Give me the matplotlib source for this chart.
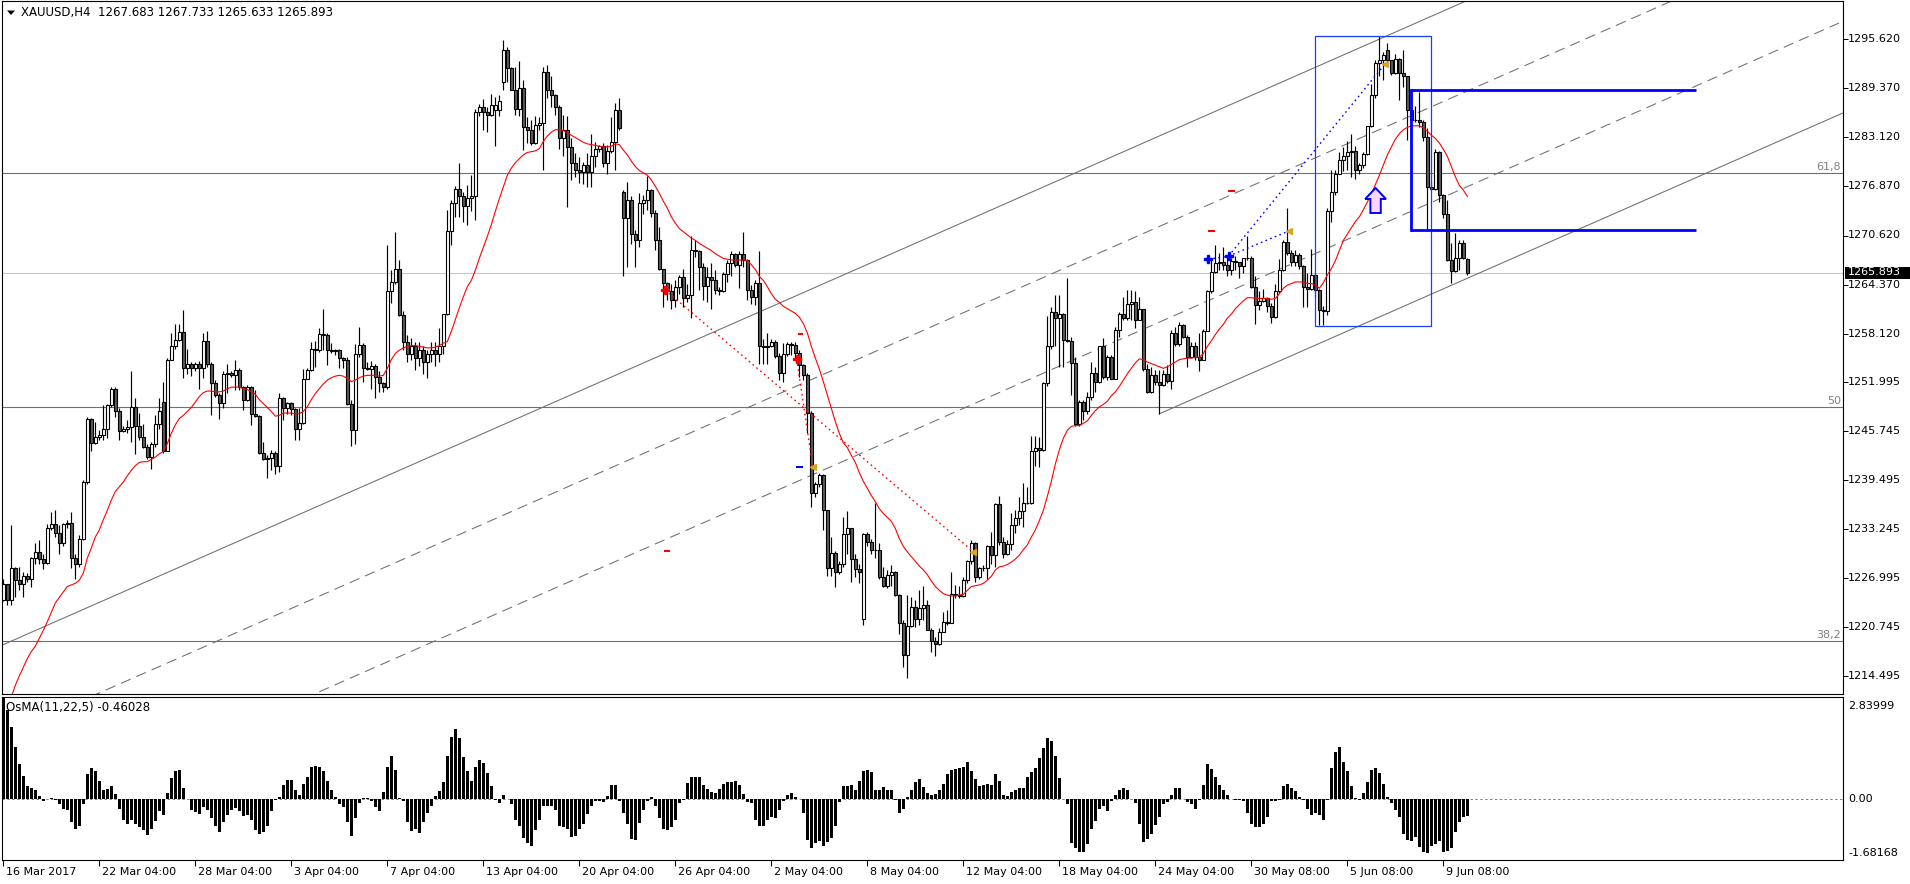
import matplotlib
matplotlib.use("Agg")
import matplotlib.pyplot as plt
from matplotlib.patches import Rectangle, Polygon
import numpy as np

plt.rcParams['font.family'] = ['DejaVu Sans']

# ---------------- data ----------------
opens = [
1224.2,1226.2,1224.2,1228.2,1226.7,1226.2,1227.2,1226.9,1229.5,1230.3,
1229.4,1228.9,1233.4,1233.9,1232.7,1231.5,1233.8,1234.0,1229.5,1228.8,
1232.0,1239.2,1247.2,1244.2,1244.9,1245.2,1246.0,1249.0,1251.1,1248.3,
1245.7,1246.0,1246.2,1248.8,1246.3,1244.9,1243.7,1242.4,1244.1,1246.6,
1249.4,1243.2,1254.8,1256.5,1257.3,1258.3,1253.8,1254.3,1253.7,1254.3,
1253.8,1257.2,1254.3,1251.8,1250.3,1249.3,1253.0,1253.1,1252.8,1253.5,
1251.3,1249.7,1251.3,1247.9,1247.6,1242.9,1242.2,1242.3,1242.9,1241.2,
1249.9,1248.7,1249.3,1248.5,1246.0,1246.7,1252.4,1253.5,1256.2,1256.0,
1258.1,1257.9,1256.0,1255.9,1256.0,1255.0,1254.8,1249.2,1245.9,1255.5,
1256.7,1253.7,1253.6,1254.0,1252.6,1251.8,1251.3,1263.5,1264.7,1266.3,
1260.5,1257.0,1255.5,1256.5,1255.0,1256.0,1254.5,1255.5,1256.0,1255.5,
1256.5,1260.6,1271.2,1274.7,1276.6,1275.6,1274.4,1275.4,1275.7,1286.3,
1287.0,1286.3,1286.0,1286.6,1286.6,1290.2,1294.3,1291.9,1289.2,1286.7,
1289.4,1284.5,1284.0,1282.4,1284.7,1285.0,1291.4,1289.2,1288.5,1287.0,
1283.0,1284.1,1281.9,1279.8,1279.0,1278.7,1279.6,1278.7,1280.7,1281.7,
1282.0,1279.8,1281.4,1282.5,1286.6,1276.2,1272.8,1275.2,1270.8,1270.0,
1274.8,1275.1,1276.4,1273.5,1270.1,1266.3,1264.6,1263.5,1262.4,1264.0,
1265.3,1262.7,1263.0,1268.8,1268.6,1266.6,1264.2,1265.3,1264.9,1263.7,
1263.5,1265.7,1267.1,1268.3,1266.9,1268.3,1267.5,1263.7,1262.8,1264.6,
1256.5,1256.4,1256.5,1257.0,1255.3,1253.1,1255.5,1256.8,1256.7,1255.7,
1254.1,1252.8,1248.0,1237.8,1238.9,1240.1,1235.6,1228.3,1230.2,1227.7,
1228.8,1232.6,1233.3,1229.4,1228.1,1221.7,1232.6,1231.6,1230.6,1230.5,
1227.1,1225.9,1227.4,1227.8,1224.8,1221.3,1217.2,1220.9,1223.3,1221.8,
1223.1,1223.5,1220.4,1218.9,1218.6,1220.1,1221.4,1221.2,1225.0,1224.8,
1224.7,1226.7,1229.1,1231.4,1227.1,1228.2,1228.3,1231.0,1229.9,1236.4,
1231.6,1230.1,1231.3,1233.7,1234.6,1235.5,1236.6,1236.5,1243.1,1243.5,
1243.3,1251.8,1256.5,1260.9,1260.1,1260.6,1257.3,1257.2,1254.4,1246.6,
1249.4,1248.3,1250.0,1253.1,1252.0,1256.5,1252.6,1255.2,1252.4,1258.6,
1260.6,1260.1,1261.9,1262.1,1259.9,1261.2,1253.6,1250.7,1252.8,1252.0,
1251.6,1253.0,1252.1,1258.2,1256.8,1259.2,1257.7,1255.1,1256.5,1255.2,
1254.8,1258.5,1263.5,1266.0,1267.1,1267.3,1266.9,1266.2,1267.4,1267.3,
1266.7,1267.7,1267.8,1264.1,1261.8,1262.3,1262.6,1261.6,1260.2,1263.5,
1266.2,1269.8,1268.4,1267.3,1268.1,1266.7,1264.1,1263.8,1265.6,1263.7,
1261.1,1261.0,1273.7,1276.1,1278.5,1280.3,1280.7,1281.3,1281.4,1279.0,
1279.6,1281.0,1284.6,1288.5,1292.6,1293.0,1294.3,1293.0,1291.3,1293.1,
1291.3,1290.9,1286.6,1285.3,1285.4,1285.1,1283.2,1276.8,1276.5,1281.2,
1275.8,1273.4,1267.5,1266.1,1267.8,1269.7,1267.683]

highs = [
1226.9,1226.2,1233.7,1228.4,1228.4,1227.8,1227.6,1229.7,1231.5,1231.8,
1230.1,1233.9,1235.4,1235.6,1233.7,1234.0,1234.4,1235.4,1230.1,1232.5,
1239.5,1247.5,1247.4,1246.9,1245.8,1249.0,1249.2,1251.3,1251.3,1248.7,
1246.3,1247.1,1253.4,1249.9,1248.0,1246.6,1244.1,1244.3,1247.7,1249.9,
1252.0,1255.0,1258.2,1259.3,1259.3,1261.1,1256.2,1254.5,1254.5,1254.6,
1258.2,1258.4,1254.5,1252.2,1250.6,1253.3,1254.3,1253.3,1254.7,1253.7,
1251.4,1251.6,1251.5,1250.9,1247.7,1244.3,1242.6,1243.3,1243.1,1250.6,
1250.0,1249.4,1249.4,1248.7,1248.6,1253.6,1253.7,1257.1,1257.2,1258.8,
1261.2,1258.2,1256.9,1256.2,1256.2,1255.2,1255.1,1249.7,1256.8,1259.0,
1256.9,1254.5,1254.6,1254.2,1253.4,1251.9,1269.4,1266.2,1271.1,1267.5,
1261.0,1258.0,1257.5,1257.0,1257.0,1256.5,1256.0,1257.0,1257.0,1258.8,
1260.6,1273.9,1275.1,1276.9,1279.8,1276.2,1277.1,1278.3,1286.8,1287.4,
1288.0,1287.0,1288.7,1288.3,1288.5,1295.5,1294.6,1292.1,1292.1,1292.8,
1290.4,1285.7,1285.4,1285.8,1285.7,1292.1,1292.3,1290.9,1288.7,1287.3,
1286.0,1285.8,1283.0,1281.1,1280.6,1280.0,1281.1,1283.6,1282.5,1282.2,
1282.4,1282.2,1285.7,1287.5,1288.2,1276.4,1277.5,1275.6,1271.3,1276.0,
1275.8,1278.2,1276.6,1273.9,1271.7,1266.4,1264.7,1264.5,1264.9,1265.6,
1266.4,1264.5,1270.5,1270.0,1268.8,1267.1,1266.6,1267.1,1266.2,1264.1,
1266.0,1267.5,1268.7,1268.4,1268.7,1271.1,1267.6,1264.3,1264.9,1268.6,
1257.4,1258.2,1257.4,1257.3,1255.6,1256.9,1257.1,1257.0,1257.0,1256.0,
1254.3,1253.1,1248.2,1239.2,1240.3,1240.2,1235.6,1232.2,1230.4,1229.1,
1234.8,1235.5,1233.4,1230.1,1228.8,1232.7,1232.9,1232.0,1236.5,1231.4,
1228.4,1228.0,1228.6,1227.9,1225.0,1221.6,1224.8,1224.6,1224.2,1225.4,
1225.9,1224.2,1220.6,1219.5,1220.6,1222.7,1222.9,1227.7,1226.1,1225.9,
1227.1,1229.3,1231.8,1231.6,1228.4,1228.6,1231.2,1232.9,1236.5,1237.4,
1232.2,1231.8,1235.2,1235.6,1237.3,1239.1,1238.6,1245.1,1245.1,1245.0,
1252.0,1260.3,1261.5,1263.0,1263.0,1260.8,1265.2,1257.7,1255.2,1249.7,
1249.7,1250.7,1254.5,1253.9,1256.5,1257.5,1255.4,1255.4,1259.0,1260.9,
1262.8,1263.7,1263.7,1263.6,1262.8,1261.3,1254.3,1253.9,1253.5,1253.5,
1253.5,1254.1,1258.6,1259.0,1259.6,1259.4,1257.9,1257.1,1257.0,1258.2,
1258.7,1263.7,1267.5,1269.4,1268.4,1269.2,1268.1,1267.7,1268.0,1267.3,
1267.8,1270.5,1268.0,1265.4,1263.5,1263.8,1262.8,1262.0,1264.5,1267.6,
1270.0,1274.1,1268.8,1268.8,1268.4,1266.9,1265.8,1268.9,1265.8,1263.8,
1261.6,1274.1,1279.0,1279.0,1281.3,1281.9,1282.6,1283.5,1282.0,1279.8,
1281.3,1284.6,1289.9,1293.0,1296.0,1294.0,1295.1,1293.0,1293.8,1293.2,
1294.3,1290.9,1288.9,1287.1,1288.9,1285.3,1284.3,1277.5,1281.6,1281.4,
1275.9,1275.1,1269.7,1270.9,1270.0,1270.1,1267.733]

lows = [
1224.0,1223.5,1223.5,1224.6,1225.4,1224.6,1226.5,1225.8,1228.8,1228.8,
1228.1,1228.8,1233.1,1232.2,1230.1,1231.0,1233.3,1228.2,1226.9,1228.4,
1231.8,1238.9,1243.1,1244.0,1244.6,1244.6,1244.8,1248.8,1247.5,1244.6,
1245.6,1245.4,1244.3,1242.8,1244.6,1243.5,1242.2,1240.9,1243.7,1246.0,
1242.9,1243.1,1254.7,1256.1,1257.2,1252.5,1253.0,1252.7,1253.3,1251.1,
1252.5,1253.9,1247.7,1250.1,1247.3,1248.6,1250.5,1252.6,1250.9,1250.9,
1248.4,1249.5,1246.5,1247.5,1242.8,1242.0,1239.7,1240.8,1240.2,1240.5,
1247.1,1247.9,1247.7,1244.6,1244.6,1246.6,1252.3,1253.4,1253.9,1255.8,
1256.0,1254.1,1255.6,1255.4,1253.7,1253.7,1249.0,1243.8,1244.1,1255.2,
1252.0,1253.5,1251.1,1249.9,1250.7,1250.7,1251.0,1262.0,1264.5,1260.3,
1256.0,1254.5,1254.8,1253.5,1254.0,1253.0,1252.5,1254.5,1254.0,1254.5,
1255.5,1260.5,1269.4,1273.0,1273.0,1272.4,1272.0,1273.7,1272.6,1285.8,
1284.1,1283.8,1285.8,1282.0,1285.8,1289.2,1290.2,1289.1,1286.0,1285.8,
1281.5,1282.4,1282.1,1282.3,1284.1,1279.0,1288.1,1287.0,1286.0,1281.7,
1280.7,1274.2,1277.7,1278.1,1277.3,1277.2,1276.8,1276.8,1279.4,1281.3,
1279.4,1278.5,1281.1,1279.0,1284.1,1265.5,1266.6,1269.6,1266.6,1269.2,
1273.4,1273.9,1273.0,1268.8,1266.2,1261.5,1262.4,1261.3,1261.5,1263.2,
1261.5,1262.2,1260.1,1267.9,1263.7,1262.4,1262.2,1261.3,1263.2,1263.0,
1263.4,1264.7,1265.4,1266.6,1263.9,1266.6,1262.4,1261.9,1261.8,1254.3,
1254.3,1254.3,1256.4,1255.0,1252.2,1252.0,1255.3,1255.4,1254.8,1252.6,
1252.2,1245.4,1236.0,1237.3,1238.6,1233.1,1227.2,1227.2,1225.8,1227.5,
1228.4,1230.1,1226.5,1227.1,1226.3,1221.0,1231.0,1230.1,1229.5,1226.8,
1225.8,1225.7,1225.9,1224.7,1219.9,1215.7,1214.3,1220.8,1220.8,1221.0,
1221.6,1220.4,1217.6,1217.0,1218.4,1220.1,1221.0,1221.2,1224.4,1224.4,
1224.6,1226.3,1228.8,1226.5,1226.9,1227.9,1226.9,1228.8,1228.4,1231.2,
1229.5,1229.9,1230.5,1232.7,1233.7,1233.5,1236.4,1236.4,1241.2,1241.1,
1243.2,1251.4,1256.2,1256.5,1253.9,1253.9,1257.1,1250.3,1246.3,1246.4,
1247.1,1247.9,1249.7,1250.7,1251.8,1252.4,1252.2,1252.3,1252.3,1257.7,
1259.8,1259.8,1259.8,1258.8,1259.8,1253.3,1250.6,1250.6,1251.6,1247.9,
1251.4,1251.8,1251.1,1256.5,1256.5,1257.5,1253.9,1255.0,1254.8,1253.3,
1254.8,1258.4,1263.3,1265.8,1266.2,1266.2,1265.4,1265.6,1266.2,1265.2,
1265.8,1267.5,1263.9,1259.4,1261.1,1262.2,1260.9,1259.5,1260.1,1263.3,
1266.1,1268.1,1266.7,1266.7,1266.4,1261.5,1261.5,1263.7,1262.8,1259.2,
1259.2,1260.5,1272.4,1275.8,1278.5,1278.8,1279.0,1278.1,1277.8,1278.5,
1279.2,1280.9,1284.5,1288.1,1290.9,1290.4,1292.3,1291.1,1291.2,1287.9,
1289.6,1282.8,1285.1,1285.1,1284.5,1282.6,1271.4,1276.4,1276.4,1274.9,
1272.9,1267.4,1264.6,1266.0,1266.2,1267.6,1265.633]

closes = [
1226.2,1224.2,1228.2,1226.7,1226.2,1227.2,1226.9,1229.5,1230.3,1229.4,
1228.9,1233.4,1233.9,1232.7,1231.5,1233.8,1234.0,1229.5,1228.8,1232.0,
1239.2,1247.2,1244.2,1244.9,1245.2,1246.0,1249.0,1251.1,1248.3,1245.7,
1246.0,1246.2,1248.8,1246.3,1244.9,1243.7,1242.4,1244.1,1246.6,1248.3,
1243.2,1254.8,1256.5,1257.3,1258.3,1253.8,1254.3,1253.7,1254.3,1253.8,
1257.2,1254.3,1251.8,1250.3,1249.3,1253.0,1253.1,1252.8,1253.5,1251.3,
1249.7,1251.3,1247.9,1247.6,1242.9,1242.2,1242.3,1242.9,1241.2,1249.9,
1248.7,1249.3,1248.5,1246.0,1246.7,1252.4,1253.5,1256.2,1256.0,1258.1,
1257.9,1256.0,1255.9,1256.0,1255.0,1254.8,1249.2,1245.9,1255.5,1256.7,
1253.7,1253.6,1254.0,1252.6,1251.8,1251.3,1263.5,1264.7,1266.3,1260.5,
1257.0,1255.5,1256.5,1255.0,1256.0,1254.5,1255.5,1256.0,1255.5,1256.5,
1260.6,1271.2,1274.7,1276.6,1275.6,1274.4,1275.4,1275.7,1286.3,1287.0,
1286.3,1286.0,1287.3,1287.3,1287.7,1294.3,1291.9,1289.2,1286.7,1289.4,
1284.5,1284.0,1282.4,1284.7,1285.0,1291.4,1289.2,1288.5,1287.0,1283.0,
1284.1,1281.9,1279.8,1279.0,1278.7,1279.6,1278.7,1280.7,1281.7,1282.0,
1279.8,1281.4,1282.5,1286.6,1284.3,1272.8,1275.2,1270.8,1270.0,1274.8,
1275.1,1276.4,1273.5,1270.1,1266.3,1264.6,1263.5,1262.4,1264.0,1265.3,
1262.7,1263.0,1268.8,1268.6,1266.6,1264.2,1265.3,1264.9,1263.7,1263.5,
1265.7,1267.1,1268.3,1266.9,1268.3,1267.5,1263.7,1262.8,1264.6,1256.5,
1256.4,1256.5,1257.0,1255.3,1253.1,1255.5,1256.8,1256.7,1255.7,1254.1,
1252.8,1248.0,1237.8,1238.9,1240.1,1235.6,1228.3,1230.2,1227.7,1228.8,
1232.6,1233.3,1229.4,1228.1,1227.7,1232.6,1231.6,1230.6,1230.5,1227.1,
1225.9,1227.4,1227.8,1224.8,1221.3,1217.2,1220.9,1223.3,1221.8,1223.1,
1223.5,1220.4,1218.9,1218.6,1220.1,1221.4,1221.2,1225.0,1224.8,1224.7,
1226.7,1229.1,1231.4,1227.1,1228.2,1228.3,1231.0,1229.9,1236.4,1231.6,
1230.1,1231.3,1233.7,1234.6,1235.5,1236.6,1236.5,1243.1,1243.5,1243.3,
1251.8,1256.5,1260.9,1260.1,1260.6,1257.3,1257.2,1254.4,1246.6,1249.4,
1248.3,1250.0,1253.1,1252.0,1256.5,1252.6,1255.2,1252.4,1258.6,1260.6,
1260.1,1261.9,1262.1,1259.9,1261.2,1253.6,1250.7,1252.8,1252.0,1251.6,
1253.0,1252.1,1258.2,1256.8,1259.2,1257.7,1255.1,1256.5,1255.2,1254.8,
1258.5,1263.5,1266.0,1267.1,1267.3,1266.9,1266.2,1267.4,1267.3,1266.7,
1267.7,1267.8,1264.1,1261.8,1262.3,1262.6,1261.6,1260.2,1263.5,1266.2,
1269.8,1268.4,1267.3,1268.1,1266.7,1264.1,1263.8,1265.6,1263.7,1261.1,
1261.0,1273.7,1276.1,1278.5,1280.3,1280.7,1281.3,1281.4,1279.0,1279.6,
1281.0,1284.6,1288.5,1292.6,1293.0,1293.6,1293.0,1291.3,1293.1,1291.3,
1290.9,1286.6,1285.3,1285.4,1285.1,1283.2,1276.8,1276.5,1281.2,1275.8,
1273.4,1267.5,1266.1,1267.8,1269.7,1267.7,1265.893]

ma_line = [
1208.5,1210.2,1211.8,1213.3,1214.5,1215.6,1216.7,1217.6,1218.3,1219.3,
1220.3,1221.4,1222.6,1223.8,1224.5,1225.2,1225.9,1226.1,1226.3,1226.7,
1227.6,1229.5,1230.8,1232.2,1233.1,1234.4,1235.6,1236.9,1238.0,1238.6,
1239.2,1240.0,1240.7,1241.3,1241.7,1241.8,1241.8,1242.1,1242.4,1242.8,
1243.1,1244.1,1245.4,1246.5,1247.3,1247.7,1248.2,1248.7,1249.4,1250.1,
1250.6,1250.8,1250.8,1250.7,1250.7,1250.8,1251.1,1251.3,1251.3,1251.3,
1251.1,1251.0,1250.7,1250.4,1249.7,1249.2,1248.7,1248.2,1247.6,1247.7,
1248.0,1248.0,1248.0,1247.9,1247.9,1248.2,1248.8,1249.7,1250.5,1251.1,
1251.7,1252.2,1252.5,1252.7,1252.8,1252.7,1252.4,1252.0,1252.2,1252.5,
1252.7,1252.8,1252.8,1252.8,1252.7,1252.8,1253.7,1254.8,1255.6,1256.0,
1256.3,1256.5,1256.6,1256.6,1256.5,1256.4,1256.3,1256.3,1256.4,1256.6,
1256.9,1257.1,1258.4,1259.9,1261.4,1262.8,1264.1,1264.9,1266.2,1267.7,
1269.1,1270.5,1272.0,1273.7,1275.3,1276.8,1278.3,1279.2,1279.9,1280.4,
1280.9,1281.2,1281.3,1281.4,1281.7,1282.6,1283.3,1283.8,1284.1,1284.1,
1284.0,1283.7,1283.4,1283.1,1282.8,1282.5,1282.3,1282.2,1282.1,1282.0,
1281.9,1281.9,1282.0,1282.3,1282.2,1281.5,1280.9,1280.1,1279.4,1278.9,
1278.6,1278.3,1277.7,1276.9,1276.0,1275.0,1274.1,1273.0,1272.2,1271.5,
1271.1,1270.7,1270.3,1270.0,1269.6,1269.3,1269.0,1268.7,1268.3,1268.0,
1267.7,1267.6,1267.5,1267.5,1267.5,1267.5,1267.4,1266.9,1266.3,1265.4,
1264.9,1264.1,1263.2,1262.5,1262.1,1261.6,1261.3,1261.0,1260.7,1260.2,
1259.4,1258.2,1256.5,1255.0,1253.6,1252.0,1250.3,1248.6,1246.9,1245.4,
1244.2,1243.6,1242.6,1241.7,1240.4,1239.3,1238.4,1237.5,1236.7,1235.8,
1235.2,1234.7,1234.2,1233.3,1232.0,1231.0,1230.3,1229.7,1229.1,1228.5,
1228.0,1227.4,1226.6,1225.9,1225.4,1225.0,1224.8,1224.7,1224.7,1224.8,
1224.9,1225.4,1225.9,1226.0,1226.1,1226.3,1226.7,1227.2,1228.0,1228.4,
1228.5,1228.7,1229.0,1229.4,1229.9,1230.6,1231.2,1232.2,1233.1,1234.3,
1235.6,1237.4,1239.3,1241.5,1243.3,1244.8,1245.8,1246.3,1246.4,1246.4,
1246.7,1247.0,1247.7,1248.3,1248.8,1249.1,1249.5,1250.2,1250.7,1251.4,
1252.2,1253.0,1253.7,1254.4,1254.9,1254.8,1254.5,1254.3,1254.1,1253.9,
1253.7,1253.9,1254.2,1254.5,1254.8,1254.9,1255.0,1255.0,1255.1,1255.1,
1255.6,1256.5,1257.2,1258.0,1258.7,1259.3,1260.1,1260.6,1261.3,1261.8,
1262.3,1262.7,1262.7,1262.6,1262.6,1262.6,1262.6,1262.5,1262.6,1263.2,
1263.9,1264.3,1264.5,1264.7,1264.7,1264.7,1264.5,1264.5,1264.3,1263.9,
1264.6,1265.6,1266.4,1267.4,1268.7,1270.0,1270.8,1271.6,1272.4,1273.0,
1273.9,1274.9,1275.9,1277.1,1278.3,1279.6,1280.9,1281.9,1282.9,1283.6,
1284.1,1284.4,1284.6,1284.6,1284.6,1284.3,1283.9,1283.4,1283.0,1282.4,
1281.6,1280.7,1279.4,1278.1,1277.0,1276.4,1275.6]

osma = [
2.84,2.48,2.00,1.45,0.98,0.64,0.36,0.32,0.25,0.08,
-0.05,0.00,0.05,-0.01,-0.12,-0.26,-0.30,-0.63,-0.81,-0.74,
-0.14,0.70,0.87,0.80,0.52,0.27,0.28,0.36,0.14,-0.26,
-0.56,-0.67,-0.56,-0.69,-0.76,-0.86,-0.99,-0.83,-0.60,-0.32,
-0.44,0.19,0.60,0.78,0.82,0.32,0.00,-0.29,-0.35,-0.41,
-0.21,-0.30,-0.53,-0.74,-0.90,-0.63,-0.44,-0.30,-0.23,-0.32,
-0.47,-0.44,-0.58,-0.84,-0.95,-0.90,-0.75,-0.32,-0.01,0.06,
0.41,0.54,0.54,0.26,0.11,0.43,0.63,0.91,0.93,0.89,
0.78,0.52,0.25,0.06,-0.14,-0.21,-0.63,-1.01,-0.53,-0.10,
0.04,0.05,-0.05,-0.21,-0.33,0.20,0.89,1.21,0.82,0.05,
-0.05,-0.63,-0.88,-0.81,-0.93,-0.63,-0.38,-0.17,0.08,0.23,
0.48,1.21,1.74,1.95,1.70,1.17,0.78,0.50,0.89,1.09,
1.00,0.72,0.36,-0.01,-0.10,0.11,0.02,-0.14,-0.56,-0.75,
-1.06,-1.21,-1.30,-0.86,-0.58,-0.17,-0.19,-0.19,-0.29,-0.75,
-0.76,-0.83,-1.04,-1.02,-0.83,-0.69,-0.40,-0.17,-0.05,-0.05,
-0.07,0.08,0.41,0.41,-0.05,-0.38,-0.67,-1.11,-1.13,-0.65,
-0.30,-0.05,0.06,-0.19,-0.53,-0.81,-0.86,-0.76,-0.56,-0.10,
-0.01,0.45,0.61,0.61,
0.62,0.41,0.29,0.20,0.17,0.29,0.43,0.48,0.48,0.50,
0.41,0.16,-0.07,-0.10,-0.58,-0.74,-0.74,-0.58,-0.49,-0.51,
-0.30,-0.05,0.11,0.17,0.06,0.01,-0.38,-1.13,-1.36,-1.20,
-1.15,-1.30,-1.18,-1.08,-0.74,-0.07,0.36,0.36,0.41,0.25,
0.52,0.78,0.82,0.75,0.27,0.25,0.34,0.25,0.25,-0.01,
-0.38,-0.26,0.06,0.25,0.48,0.57,0.34,0.17,0.11,0.16,
0.27,0.43,0.71,0.82,0.85,0.87,0.91,1.05,0.78,0.57,
0.36,0.39,0.43,0.41,0.71,0.52,0.11,0.08,0.20,0.27,
0.32,0.32,0.63,0.75,0.87,1.15,1.42,1.70,1.63,1.21,
0.60,0.02,-0.14,-1.20,-1.36,-1.45,-1.45,-1.24,-0.81,-0.60,
-0.28,-0.17,-0.32,-0.05,0.11,0.25,0.32,0.27,0.02,-0.10,
-0.69,-1.18,-1.11,-0.97,-0.72,-0.49,-0.14,-0.07,0.11,0.32,
0.32,0.02,-0.07,-0.14,-0.26,-0.03,0.41,0.97,0.85,0.63,
0.41,0.27,0.11,0.02,-0.01,-0.03,-0.05,-0.38,-0.69,-0.76,
-0.76,-0.69,-0.49,-0.05,-0.05,-0.01,0.36,0.43,0.32,0.23,
0.06,-0.01,-0.26,-0.44,-0.38,-0.44,-0.58,-0.01,0.87,1.31,
1.44,1.03,0.80,0.36,0.05,-0.03,0.17,0.48,0.82,0.87,
0.73,0.43,0.06,-0.10,-0.30,-0.49,-0.97,-1.13,-1.15,-1.04,
-1.31,-1.45,-1.48,-1.30,-1.24,-1.15,-1.45,-1.42,-1.36,-0.90,
-0.63,-0.49,-0.46028]

price_ticks = [1295.620, 1289.370, 1283.120, 1276.870, 1270.620, 1264.370,
               1258.120, 1251.995, 1245.745, 1239.495, 1233.245, 1226.995,
               1220.745, 1214.495]
price_labels = ["%.3f" % v for v in price_ticks]
date_idx = [0, 24, 48, 72, 96, 120, 144, 168, 192, 216, 240, 264, 288, 312, 336, 360]
date_labels = ["16 Mar 2017", "22 Mar 04:00", "28 Mar 04:00", "3 Apr 04:00",
               "7 Apr 04:00", "13 Apr 04:00", "20 Apr 04:00", "26 Apr 04:00",
               "2 May 04:00", "8 May 04:00", "12 May 04:00", "18 May 04:00",
               "24 May 04:00", "30 May 08:00", "5 Jun 08:00", "9 Jun 08:00"]
fib_levels = [1278.55, 1248.73, 1218.95]
fib_names = ["61,8", "50", "38,2"]
last_price = 1265.893
osma_max, osma_min = 2.83999, -1.68168
title = "XAUUSD,H4  1267.683 1267.733 1265.633 1265.893"
osma_title = "OsMA(11,22,5) -0.46028"

# channel lines: (i_start, price_start, i_end, price_end)
channel_solid = [(-5, 1217.37, 470, 1323.9), (289, 1247.9, 470, 1288.5)]
channel_dashed = [(-5, 1205.83, 470, 1312.37), (-5, 1193.64, 470, 1300.18)]
# harmonic pattern objects
red_dotted = [(165.4, 1263.69, 242.5, 1230.33), (198.35, 1254.85, 202.35, 1241.16)]
blue_dotted = [(301.25, 1267.59, 306.3, 1268.0), (306.3, 1268.0, 345.4, 1292.47),
               (306.3, 1268.0, 321.35, 1271.19)]
red_stars = [(165.4, 1263.69), (198.35, 1254.85)]
blue_stars = [(301.25, 1267.59), (306.3, 1268.0)]
orange_tris = [(202.35, 1241.16), (242.5, 1230.33), (321.35, 1271.19), (345.4, 1292.47)]
red_dashes = [(198.6, 199.9, 1258.07), (165.2, 166.7, 1230.48),
              (306.2, 308.0, 1276.33), (301.2, 303.0, 1271.15)]
blue_dashes = [(198.2, 200.0, 1241.08)]
thin_box = (328, 1259.1, 357, 1296.0)
thick_box = (352, 1271.3, 423.2, 1289.1)
arrow_pos = (343.05, 1273.49, 1276.67)

# ---------------- figure ----------------
W, H = 1910, 884
fig = plt.figure(figsize=(W / 100, H / 100), dpi=100)
fig.patch.set_facecolor('white')

def fx(px):
    return px / W

def fy(py):
    return 1 - py / H

L, R = 2, 1843
ax = fig.add_axes([fx(L), fy(694), (R - L) / W, 693 / H])
ax2 = fig.add_axes([fx(L), fy(860), (R - L) / W, 163 / H])
XLIM = (-0.325, 459.9)
ax.set_xlim(*XLIM)
ax.set_ylim(1212.20, 1300.50)
ax2.set_xlim(*XLIM)
ax2.set_ylim(osma_min, osma_max)

for a in (ax, ax2):
    for s in a.spines.values():
        s.set_linewidth(0.8)
        s.set_color('black')
    a.set_facecolor('white')

ax.set_xticks([])
ax.yaxis.tick_right()
ax.set_yticks(price_ticks)
ax.tick_params(axis='y', right=True, left=False, labelright=False, labelleft=False,
               length=3.5, width=0.7, direction='out', color='black')
ax2.set_yticks([])
ax2.set_xticks(date_idx)
ax2.tick_params(axis='x', bottom=True, length=4, width=0.7, direction='out',
                labelbottom=False, color='black')

idx = np.arange(len(closes))
o = np.array(opens); h = np.array(highs); l = np.array(lows); c = np.array(closes)

# fib + current price line
for lev in fib_levels:
    ax.axhline(lev, color='#707070', lw=0.8, zorder=1)
ax.axhline(last_price, color='#c8c8c8', lw=0.8, zorder=1)

# channel lines
for (x0, y0, x1, y1) in channel_solid:
    ax.plot([x0, x1], [y0, y1], color='#6e6e6e', lw=0.75, zorder=1.5)
for (x0, y0, x1, y1) in channel_dashed:
    ax.plot([x0, x1], [y0, y1], color='#6e6e6e', lw=0.75, zorder=1.5,
            dashes=(10, 6))

# candles
ax.vlines(idx, l, h, color='black', lw=0.85, zorder=3)
up = c >= o
lo = np.minimum(o, c)
bh = np.maximum(np.abs(c - o), 0.08)
ax.bar(idx[up], bh[up], bottom=lo[up], width=0.6, color='white',
       edgecolor='black', linewidth=0.8, zorder=4)
ax.bar(idx[~up], bh[~up], bottom=lo[~up], width=0.6, color='#5a5a5a',
       edgecolor='black', linewidth=0.8, zorder=4)

# moving average
ax.plot(idx, ma_line, color='#ff0000', lw=0.8, zorder=5)

# harmonic objects
for (x0, y0, x1, y1) in red_dotted:
    ax.plot([x0, x1], [y0, y1], color='#ff0000', lw=1.0, ls=(0, (1.2, 2.4)), zorder=5)
for (x0, y0, x1, y1) in blue_dotted:
    ax.plot([x0, x1], [y0, y1], color='#0000ff', lw=1.0, ls=(0, (1.2, 2.4)), zorder=5)
for (x0, x1, y) in red_dashes:
    ax.plot([x0, x1], [y, y], color='#ff0000', lw=1.5, zorder=5, solid_capstyle='butt')
for (x0, x1, y) in blue_dashes:
    ax.plot([x0, x1], [y, y], color='#0000ff', lw=1.5, zorder=5, solid_capstyle='butt')
ax.plot([p[0] for p in red_stars], [p[1] for p in red_stars], ls='none', marker='P',
        ms=5.5, color='#ff0000', mec='#ff0000', zorder=6)
ax.plot([p[0] for p in blue_stars], [p[1] for p in blue_stars], ls='none', marker='P',
        ms=5.5, color='#0000ff', mec='#0000ff', zorder=6)
ax.plot([p[0] for p in orange_tris], [p[1] for p in orange_tris], ls='none', marker='<',
        ms=5, color='#daa520', mec='#daa520', zorder=6)

# boxes
bx0, by0, bx1, by1 = thin_box
ax.add_patch(Rectangle((bx0, by0), bx1 - bx0, by1 - by0, fill=False,
                       edgecolor='#1a3cff', lw=0.9, zorder=6))
tx0, ty0, tx1, ty1 = thick_box
ax.plot([tx0, tx0], [ty0, ty1], color='#0000ff', lw=2.0, zorder=6, solid_capstyle='projecting')
ax.plot([tx0, tx1], [ty1, ty1], color='#0000ff', lw=2.0, zorder=6, solid_capstyle='butt')
ax.plot([tx0, tx1], [ty0, ty0], color='#0000ff', lw=2.0, zorder=6, solid_capstyle='butt')

# hollow up arrow
axc, abase, atip = arrow_pos
ahead = abase + (atip - abase) * 0.56
arrow = Polygon([(axc, atip), (axc + 2.6, ahead), (axc + 1.3, ahead), (axc + 1.3, abase),
                 (axc - 1.3, abase), (axc - 1.3, ahead), (axc - 2.6, ahead)],
                closed=True, facecolor='#ffd6ff', edgecolor='#0000ff', lw=1.4, zorder=7)
ax.add_patch(arrow)

# oscillator
ax2.axhline(0, color='#808080', lw=0.7, ls=(0, (2.5, 2.5)), zorder=1)
ax2.bar(idx, osma, width=0.6, color='black', linewidth=0, zorder=2, antialiased=False)

# ---------------- texts ----------------
def ypix(p):
    return 39.3 + (1295.62 - p) * 7.848

def xpix(i):
    return 3.3 + 4 * i

for p, lab in zip(price_ticks, price_labels):
    fig.text(fx(1848), fy(ypix(p)), lab, ha='left', va='center', fontsize=8, color='black')

# current price box
yb = ypix(last_price)
fig.patches.append(Rectangle((fx(1845), fy(yb + 6)), 65 / W, 12 / H, transform=fig.transFigure,
                             facecolor='black', edgecolor='none', figure=fig))
fig.text(fx(1848), fy(yb - 0.5), "%.3f" % last_price, ha='left', va='center', fontsize=8,
         color='white')

# fib labels
for lev, name in zip(fib_levels, fib_names):
    fig.text(fx(1841), fy(ypix(lev) - 1.5), name, ha='right', va='bottom', fontsize=8,
             color='#808080')

# oscillator labels
fig.text(fx(1848), fy(706), "%.5f" % osma_max, ha='left', va='center', fontsize=8)
fig.text(fx(1848), fy(799), "0.00", ha='left', va='center', fontsize=8)
fig.text(fx(1848), fy(852.5), "%.5f" % osma_min, ha='left', va='center', fontsize=8)
fig.text(fx(6), fy(707), osma_title, ha='left', va='center', fontsize=8.5)

# date labels
for i, lab in zip(date_idx, date_labels):
    fig.text(fx(xpix(i) + 3), fy(872), lab, ha='left', va='center', fontsize=8)

# title with triangle
fig.patches.append(Polygon([(fx(7), fy(10.5)), (fx(15), fy(10.5)), (fx(11), fy(15))],
                           closed=True, transform=fig.transFigure, facecolor='black',
                           edgecolor='none', figure=fig))
fig.text(fx(21), fy(12.7), title, ha='left', va='center', fontsize=8.5)

fig.savefig("out.png", dpi=100)
